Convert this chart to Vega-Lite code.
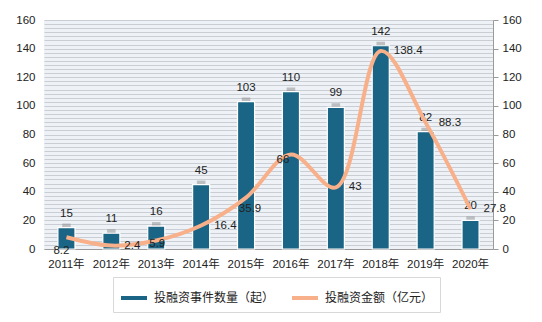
{
  "$schema": "https://vega.github.io/schema/vega-lite/v6.json",
  "width": 449,
  "height": 229,
  "autosize": "none",
  "padding": {"left": 44, "top": 20, "right": 49, "bottom": 73},
  "background": "white",
  "config": {
    "font": "Liberation Sans, Noto Sans CJK SC",
    "view": {"fill": "#eef2f7", "stroke": null},
    "text": {"font": "Liberation Sans, Noto Sans CJK SC", "fontSize": 11.5, "fill": "#222"}
  },
  "data": {
    "values": [
      {"year": "2011年", "count": 15, "amount": 8.2},
      {"year": "2012年", "count": 11, "amount": 2.4},
      {"year": "2013年", "count": 16, "amount": 5.9},
      {"year": "2014年", "count": 45, "amount": 16.4},
      {"year": "2015年", "count": 103, "amount": 35.9},
      {"year": "2016年", "count": 110, "amount": 66},
      {"year": "2017年", "count": 99, "amount": 43},
      {"year": "2018年", "count": 142, "amount": 138.4},
      {"year": "2019年", "count": 82, "amount": 88.3},
      {"year": "2020年", "count": 20, "amount": 27.8}
    ]
  },
  "encoding": {
    "x": {
      "field": "year", "type": "nominal", "sort": null,
      "scale": {"paddingInner": 0.62, "paddingOuter": 0.31},
      "axis": {"title": null, "labelAngle": 0, "ticks": false, "domainColor": "#9a9a9a", "labelFontSize": 11.5, "labelColor": "#222", "labelPadding": 9, "labelFont": "Liberation Sans, Noto Sans CJK SC"}
    }
  },
  "layer": [
    {
      "mark": {"type": "bar", "fill": "#8a8a8a", "opacity": 0.5, "width": {"band": 0.5}, "yOffset": -4},
      "encoding": {
        "y": {
          "field": "count", "type": "quantitative",
          "scale": {"domain": [0, 160], "nice": false},
          "axis": {
            "title": null, "orient": "left", "domain": false, "ticks": false, "labelPadding": 9,
            "labelFontSize": 11.5, "labelColor": "#222",
            "grid": true, "gridColor": "#c9ced5", "gridWidth": 1,
            "values": [0,2.857,5.714,8.571,11.429,14.286,17.143,20,22.857,25.714,28.571,31.429,34.286,37.143,40,42.857,45.714,48.571,51.429,54.286,57.143,60,62.857,65.714,68.571,71.429,74.286,77.143,80,82.857,85.714,88.571,91.429,94.286,97.143,100,102.857,105.714,108.571,111.429,114.286,117.143,120,122.857,125.714,128.571,131.429,134.286,137.143,140,142.857,145.714,148.571,151.429,154.286,157.143,160],
            "labelExpr": "datum.value % 20 === 0 ? datum.label : ''"
          }
        }
      }
    },
    {
      "mark": {"type": "bar", "stroke": "white", "strokeWidth": 1.2},
      "encoding": {
        "y": {
          "field": "count", "type": "quantitative",
          "scale": {"domain": [0, 160], "nice": false},
          "axis": {"title": null, "orient": "right", "grid": false, "domainColor": "#9a9a9a", "tickColor": "#9a9a9a", "tickSize": 5, "labelPadding": 4, "labelFontSize": 11.5, "labelColor": "#222", "values": [0,20,40,60,80,100,120,140,160]}
        },
        "color": {
          "datum": "投融资事件数量（起）",
          "type": "nominal",
          "scale": {"domain": ["投融资事件数量（起）", "投融资金额（亿元）"], "range": ["#1a6585", "#f8b08a"]},
          "legend": {
            "title": null, "orient": "none", "legendX": 69, "legendY": 257, "direction": "horizontal",
            "symbolType": "stroke", "symbolSize": 676, "symbolStrokeWidth": 4,
            "labelFontSize": 12, "labelColor": "#222", "labelFont": "Noto Sans CJK SC", "labelOffset": 5, "columnPadding": 9,
            "padding": 6, "strokeColor": "#d8d8d8", "fillColor": "white",
            "encode": {"symbols": {"update": {"stroke": {"scale": "color", "field": "value"}, "strokeWidth": {"signal": "datum.value === '投融资事件数量（起）' ? 9 : 4"}}}}
          }
        }
      }
    },
    {
      "mark": {"type": "text", "baseline": "middle", "dy": -14},
      "encoding": {
        "y": {"field": "count", "type": "quantitative", "scale": {"domain": [0, 160], "nice": false}, "axis": null},
        "text": {"field": "count"}
      }
    },
    {
      "mark": {"type": "line", "interpolate": "catmull-rom", "strokeWidth": 4},
      "encoding": {
        "y": {"field": "amount", "type": "quantitative", "scale": {"domain": [0, 160], "nice": false}, "axis": null},
        "color": {"datum": "投融资金额（亿元）", "type": "nominal"}
      }
    },
    {
      "transform": [{"filter": "indexof(['2012年','2014年','2017年','2018年','2019年','2020年'], datum.year) >= 0"}],
      "mark": {"type": "text", "align": "left", "baseline": "middle", "dx": 13},
      "encoding": {
        "y": {"field": "amount", "type": "quantitative", "scale": {"domain": [0, 160], "nice": false}, "axis": null},
        "text": {"field": "amount"}
      }
    },
    {
      "transform": [{"filter": "datum.year === '2011年'"}],
      "mark": {"type": "text", "align": "center", "baseline": "middle", "dx": -5, "dy": 14},
      "encoding": {
        "y": {"field": "amount", "type": "quantitative", "scale": {"domain": [0, 160], "nice": false}, "axis": null},
        "text": {"field": "amount"}
      }
    },
    {
      "transform": [{"filter": "datum.year === '2013年'"}],
      "mark": {"type": "text", "align": "center", "baseline": "middle", "dx": 1, "dy": 3},
      "encoding": {
        "y": {"field": "amount", "type": "quantitative", "scale": {"domain": [0, 160], "nice": false}, "axis": null},
        "text": {"field": "amount"}
      }
    },
    {
      "transform": [{"filter": "datum.year === '2015年'"}],
      "mark": {"type": "text", "align": "center", "baseline": "middle", "dx": 4, "dy": 11},
      "encoding": {
        "y": {"field": "amount", "type": "quantitative", "scale": {"domain": [0, 160], "nice": false}, "axis": null},
        "text": {"field": "amount"}
      }
    },
    {
      "transform": [{"filter": "datum.year === '2016年'"}],
      "mark": {"type": "text", "align": "center", "baseline": "middle", "dx": -8, "dy": 5},
      "encoding": {
        "y": {"field": "amount", "type": "quantitative", "scale": {"domain": [0, 160], "nice": false}, "axis": null},
        "text": {"field": "amount"}
      }
    }
  ],
  "resolve": {"axis": {"y": "independent"}}
}
